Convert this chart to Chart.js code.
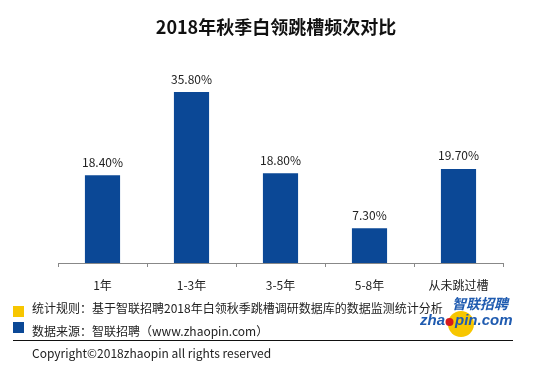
<!DOCTYPE html>
<html>
<head>
<meta charset="utf-8">
<script src="https://cdn.jsdelivr.net/npm/chart.js@4"></script>
<style>
  body{margin:0;background:#fff;}
  #wrap{width:552px;height:370px;position:relative;}
</style>
</head>
<body>
<div id="wrap"><canvas id="my_chart" width="552" height="370"></canvas></div>
<script>
// data
const categories = ['1年', '1-3年', '3-5年', '5-8年', '从未跳过槽'];
const shares = [18.4, 35.8, 18.8, 7.3, 19.7];
const title = '2018年秋季白领跳槽频次对比';
const noteRule = '统计规则：基于智联招聘2018年白领秋季跳槽调研数据库的数据监测统计分析';
const noteSource = '数据来源：智联招聘（www.zhaopin.com）';
const copyright = 'Copyright©2018zhaopin all rights reserved';

const FONT = '"Noto Sans CJK SC", "Noto Sans", sans-serif';
const blue = '#0b4896';
const yellow = '#f7c600';

// labels on the bars + title + footer notes
const extras = {
  id: 'extras',
  afterDatasetsDraw(chart) {
    const ctx = chart.ctx;
    const meta = chart.getDatasetMeta(0);
    ctx.save();
    ctx.fillStyle = '#222';
    ctx.font = '12px ' + FONT;
    ctx.textAlign = 'center';
    ctx.textBaseline = 'bottom';
    meta.data.forEach((bar, i) => {
      ctx.fillText(shares[i].toFixed(2) + '%', bar.x, bar.y - 7);
    });
    ctx.restore();
  },
  afterDraw(chart) {
    const ctx = chart.ctx;
    ctx.save();
    // title
    ctx.fillStyle = '#111';
    ctx.font = 'bold 18px ' + FONT;
    ctx.textAlign = 'center';
    ctx.textBaseline = 'middle';
    ctx.fillText(title, 276, 27);

    // legend-like notes
    ctx.fillStyle = yellow;
    ctx.fillRect(13, 306, 11, 11);
    ctx.fillStyle = blue;
    ctx.fillRect(13, 322, 11, 11);
    ctx.fillStyle = '#222';
    ctx.font = '12px ' + FONT;
    ctx.textAlign = 'left';
    ctx.fillText(noteRule, 32, 308, 416);
    ctx.fillText(noteSource, 32, 331);

    // logo
    ctx.fillStyle = yellow;
    ctx.beginPath();
    ctx.arc(461, 324, 13, 0, Math.PI * 2);
    ctx.fill();
    ctx.fillStyle = '#1f5bb0';
    ctx.font = 'italic bold 14px ' + FONT;
    ctx.textAlign = 'right';
    ctx.fillText('智联招聘', 508, 304);
    ctx.font = 'italic bold 15px "Liberation Sans", sans-serif';
    ctx.textAlign = 'left';
    const w1 = ctx.measureText('zha').width;
    ctx.fillText('zha', 420, 321);
    ctx.fillText('pin.com', 420 + w1 + 10, 321);
    ctx.fillStyle = '#d7191c';
    ctx.beginPath();
    ctx.arc(420 + w1 + 4.5, 322, 4, 0, Math.PI * 2);
    ctx.fill();

    // divider + copyright
    ctx.strokeStyle = '#111';
    ctx.lineWidth = 1;
    ctx.beginPath();
    ctx.moveTo(13, 340.5);
    ctx.lineTo(513, 340.5);
    ctx.stroke();
    ctx.fillStyle = '#222';
    ctx.font = '12px ' + FONT;
    ctx.fillText(copyright, 32, 353);
    ctx.restore();
  }
};

const barChart = new Chart(document.getElementById('my_chart').getContext('2d'), {
  type: 'bar',
  data: {
    labels: categories,
    datasets: [{
      data: shares,
      backgroundColor: blue,
      categoryPercentage: 1,
      barPercentage: 0.395
    }]
  },
  options: {
    responsive: false,
    animation: false,
    layout: { padding: { left: 58, right: 49, top: 72, bottom: 77 } },
    plugins: { legend: { display: false }, tooltip: { enabled: false } },
    scales: {
      x: {
        offset: true,
        grid: { drawOnChartArea: false, drawTicks: true, tickLength: 4, color: '#888' },
        border: { color: '#888' },
        ticks: { color: '#222', font: { size: 12, family: FONT }, padding: 11 },
        afterFit: s => { s.height = 30; }
      },
      y: {
        display: false,
        min: 0,
        max: 40
      }
    }
  },
  plugins: [extras]
});
</script>
</body>
</html>
